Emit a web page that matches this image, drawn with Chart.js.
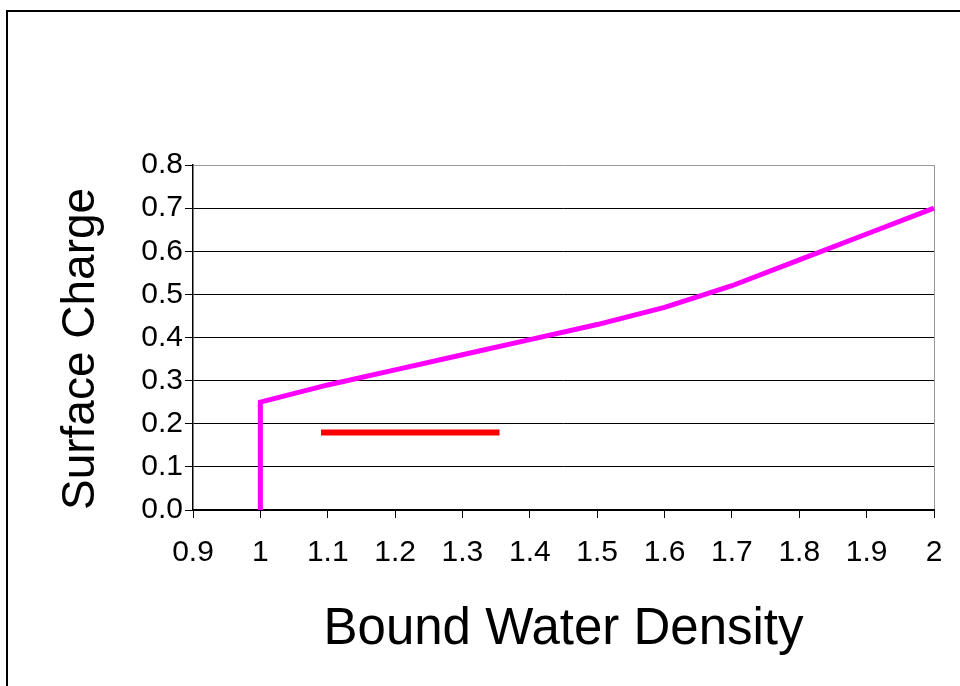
<!DOCTYPE html>
<html>
<head>
<meta charset="utf-8">
<script src="https://cdn.jsdelivr.net/npm/chart.js@4"></script>
<style>
  html, body { margin: 0; padding: 0; background: #fff; overflow: hidden; }
  #wrap { position: relative; width: 960px; height: 686px; }
  #myChart { position: absolute; left: 0; top: 0; }
  #frame {
    position: absolute; left: 6px; top: 10px; width: 970px; height: 700px;
    border-top: 2px solid #000; border-left: 2px solid #000; pointer-events: none;
  }
</style>
</head>
<body>
<div id="wrap">
  <canvas id="myChart" width="960" height="686"></canvas>
  <div id="frame"></div>
</div>
<script>
// data
const densities = [1, 1, 1.1, 1.2, 1.3, 1.4, 1.5, 1.6, 1.66, 1.7, 1.8, 1.9, 2];
const charges = [0, 0.25, 0.29, 0.325, 0.36, 0.395, 0.43, 0.47, 0.5, 0.52, 0.58, 0.64, 0.7];

const redX = [1.09, 1.355];
const redY = [0.18, 0.18];

const xTickLabels = ['0.9', '1', '1.1', '1.2', '1.3', '1.4', '1.5', '1.6', '1.7', '1.8', '1.9', '2'];
const yTickLabels = ['0.0', '0.1', '0.2', '0.3', '0.4', '0.5', '0.6', '0.7', '0.8'];

const ctx = document.getElementById('myChart');

Chart.defaults.color = '#000';
Chart.defaults.font.family = '"Liberation Sans", Arial, sans-serif';

new Chart(ctx, {
  type: 'scatter',
  data: {
    datasets: [
      {
        label: 'Surface Charge',
        data: densities.map((d, i) => ({ x: d, y: charges[i] })),
        showLine: true,
        borderColor: '#ff00ff',
        borderWidth: 5,
        pointRadius: 0,
        tension: 0,
        clip: false
      },
      {
        label: 'range',
        data: redX.map((d, i) => ({ x: d, y: redY[i] })),
        showLine: true,
        borderColor: '#ff0000',
        borderWidth: 6,
        borderCapStyle: 'butt',
        pointRadius: 0
      }
    ]
  },
  options: {
    responsive: false,
    animation: false,
    layout: {
      padding: { top: 165, right: 26, left: 0, bottom: 0 }
    },
    plugins: {
      legend: { display: false },
      tooltip: { enabled: false }
    },
    scales: {
      x: {
        type: 'linear',
        min: 0.9,
        max: 2,
        afterFit: (scale) => { scale.height = 176; },
        ticks: {
          stepSize: 0.1,
          maxRotation: 0,
          autoSkip: false,
          padding: 17,
          font: { size: 30 },
          callback: (v, i) => xTickLabels[i]
        },
        grid: {
          color: (c) => c.index === xTickLabels.length - 1 ? '#999' : 'rgba(0,0,0,0)',
          tickColor: '#000',
          tickLength: 8,
          lineWidth: 1
        },
        border: { color: '#000', width: 2 },
        title: {
          display: true,
          text: 'Bound Water Density',
          font: { size: 51 },
          padding: { top: 0, bottom: 25 }
        }
      },
      y: {
        min: 0,
        max: 0.8,
        afterFit: (scale) => { scale.width = 193; },
        ticks: {
          stepSize: 0.1,
          autoSkip: false,
          padding: 2,
          font: { size: 30 },
          callback: (v, i) => yTickLabels[i]
        },
        grid: {
          color: (c) => c.index === yTickLabels.length - 1 ? '#999' : '#000',
          tickColor: '#000',
          tickLength: 8,
          lineWidth: 1
        },
        border: { color: '#000', width: 1.5 },
        title: {
          display: true,
          text: 'Surface Charge',
          align: 'start',
          font: { size: 46 },
          padding: { top: 54, bottom: 0 }
        }
      }
    }
  }
});
</script>
</body>
</html>
